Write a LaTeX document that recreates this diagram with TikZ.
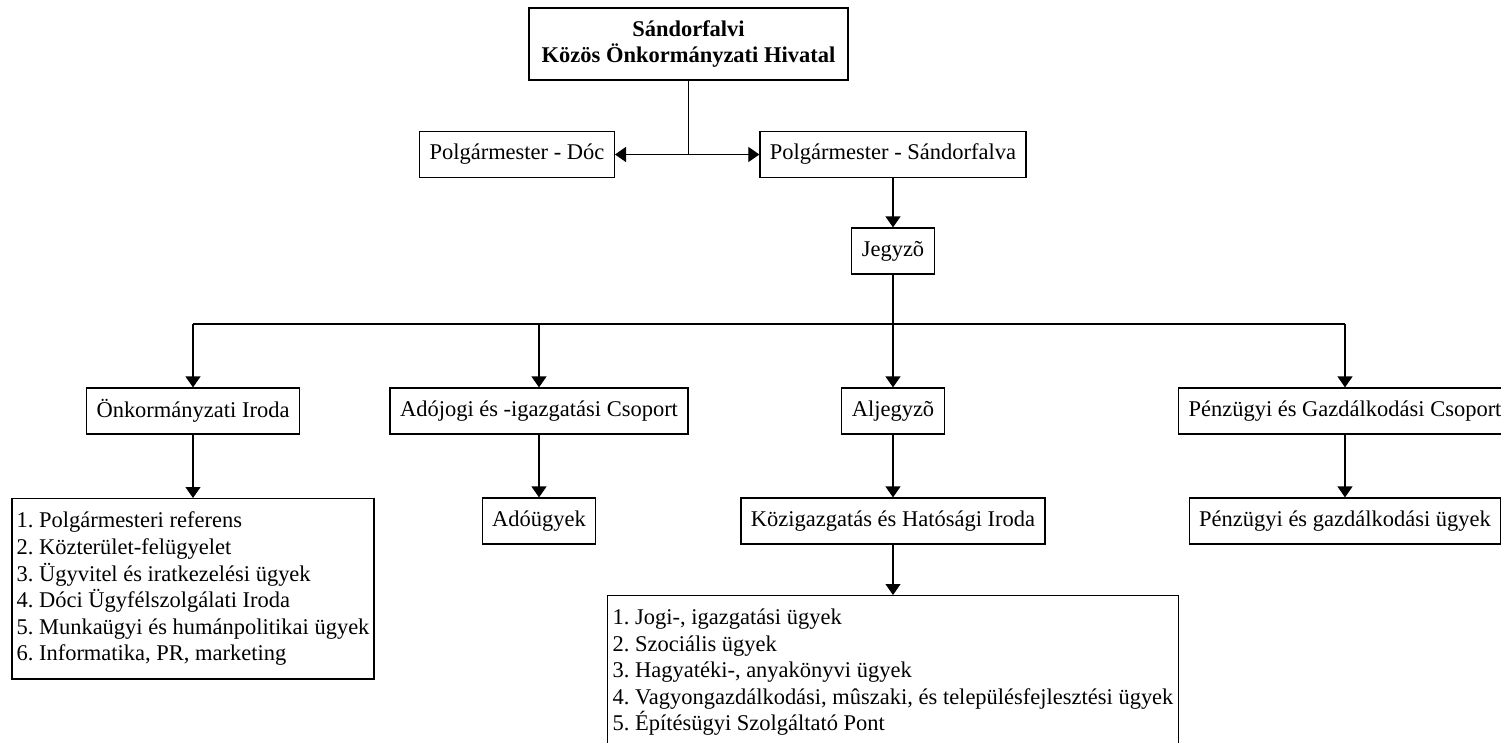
\documentclass[tikz,border=0pt]{standalone}
\usepackage{fontspec}
\setmainfont{Liberation Serif}
\usetikzlibrary{arrows.meta}

\newcommand{\orgfont}{\fontsize{12.8}{15.1}\selectfont\frenchspacing}

\begin{document}
\begin{tikzpicture}[x=0.02cm, y=-0.02cm, font=\orgfont,
    box/.style={draw, line width=0.7pt, minimum height=0.92cm, inner xsep=0.2cm, inner ysep=0pt},
    listbox/.style={draw, line width=0.7pt, align=left, anchor=north, inner ysep=0.27cm},
    arr/.style={-{Triangle[length=0.22cm, width=0.3cm]}, line width=0.7pt}]
    \useasboundingbox (0,0) rectangle (1501,743);

    \node[box, align=center, font=\orgfont\bfseries, minimum width=6.38cm, minimum height=1.44cm]
        (hivatal) at (688.5,44) {Sándorfalvi\\Közös Önkormányzati Hivatal};
    \node[box, anchor=east] (doc) at (615,154.5) {Polgármester - Dóc};
    \node[box] (sandorfalva) at (893,154.5) {Polgármester - Sándorfalva};
    \node[box] (jegyzo) at (893,251) {Jegyzõ};

    \node[box] (onkiroda) at (193,411) {Önkormányzati Iroda};
    \node[box] (adojog) at (539,411) {Adójogi és -igazgatási Csoport};
    \node[box] (aljegyzo) at (893,411) {Aljegyzõ};
    \node[box] (penzcsop) at (1345,411) {Pénzügyi és Gazdálkodási Csoport};

    \node[box] (adougy) at (539,521) {Adóügyek};
    \node[box] (hatosag) at (893,521) {Közigazgatás és Hatósági Iroda};
    \node[box] (penzugy) at (1345,521) {Pénzügyi és gazdálkodási ügyek};

    \node[listbox, inner xsep=0.09cm] (onklista) at (193,498) {%
        1. Polgármesteri referens\\
        2. Közterület-felügyelet\\
        3. Ügyvitel és iratkezelési ügyek\\
        4. Dóci Ügyfélszolgálati Iroda\\
        5. Munkaügyi és humánpolitikai ügyek\\
        6. Informatika, PR, marketing};
    \node[listbox, inner xsep=0.1cm] (hatlista) at (893,595) {%
        1. Jogi-, igazgatási ügyek\\
        2. Szociális ügyek\\
        3. Hagyatéki-, anyakönyvi ügyek\\
        4. Vagyongazdálkodási, mûszaki, és településfejlesztési ügyek\\
        5. Építésügyi Szolgáltató Pont\rule[-14pt]{0pt}{0pt}};

    \coordinate (elag) at (hivatal.south |- doc.east);
    \coordinate (bus) at (893,324);
    \draw[line width=0.7pt] (hivatal.south) -- (elag);
    \draw[arr] (elag) -- (doc.east);
    \draw[arr] (elag) -- (sandorfalva.west);
    \draw[arr] (sandorfalva.south) -- (jegyzo.north);
    \draw[line width=0.7pt] (jegyzo.south) -- (bus);
    \draw[line width=0.7pt] (onkiroda.north |- bus) -- (penzcsop.north |- bus);
    \foreach \n in {onkiroda, adojog, aljegyzo, penzcsop}
        \draw[arr] (\n.north |- bus) -- (\n.north);
    \draw[arr] (onkiroda.south) -- (onklista.north);
    \draw[arr] (adojog.south) -- (adougy.north);
    \draw[arr] (aljegyzo.south) -- (hatosag.north);
    \draw[arr] (hatosag.south) -- (hatlista.north);
    \draw[arr] (penzcsop.south) -- (penzugy.north);
\end{tikzpicture}
\end{document}
